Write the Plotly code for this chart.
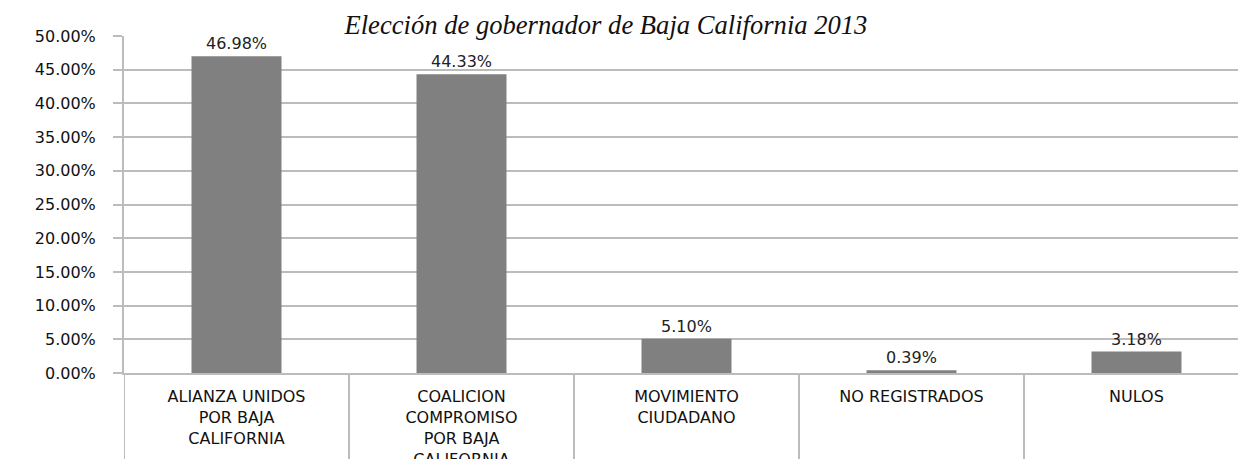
import plotly.graph_objects as go

categories = ["ALIANZA UNIDOS<br>POR BAJA<br>CALIFORNIA",
              "COALICION<br>COMPROMISO<br>POR BAJA<br>CALIFORNIA",
              "MOVIMIENTO<br>CIUDADANO",
              "NO REGISTRADOS",
              "NULOS"]
values = [0.4698, 0.4433, 0.0510, 0.0039, 0.0318]
labels = ["46.98%", "44.33%", "5.10%", "0.39%", "3.18%"]
title = "Elección de gobernador de Baja California 2013"

x_idx = list(range(len(categories)))

fig = go.Figure()
fig.add_trace(go.Bar(
    x=x_idx, y=values, text=labels, textposition="outside",
    textfont=dict(family="DejaVu Sans", size=16, color="#222222"),
    marker=dict(color="#808080", line=dict(width=0)),
    width=0.4, cliponaxis=False,
))

grid_col = "#bcbcbc"
shapes = []
for b in range(len(categories)):
    shapes.append(dict(type="line", xref="x", yref="paper",
                       x0=b - 0.5, x1=b - 0.5, y0=0, y1=-0.3,
                       line=dict(color=grid_col, width=2)))

fig.update_layout(
    width=1238, height=451,
    margin=dict(l=116, r=0, t=28, b=86),
    paper_bgcolor="white", plot_bgcolor="white",
    showlegend=False,
    title=dict(text=title, x=0.483, xanchor="center", y=0.962, yanchor="middle",
               font=dict(family="Liberation Serif", size=26.6, color="#111111", style="italic")),
    shapes=shapes,
    xaxis=dict(range=[-0.5, 4.4867], tickmode="array", tickvals=x_idx, ticktext=categories,
               showgrid=False, showline=True, linecolor=grid_col, linewidth=2,
               ticks="", ticklabelstandoff=8, automargin=False,
               tickfont=dict(family="DejaVu Sans", size=16, color="#111111")),
    yaxis=dict(range=[0, 0.5], dtick=0.05, tickformat=".2%",
               showgrid=True, gridcolor=grid_col, gridwidth=1.5,
               showline=True, linecolor=grid_col, linewidth=2,
               ticks="outside", ticklen=9, tickcolor=grid_col, tickwidth=1.5,
               ticklabelstandoff=14, zeroline=False, automargin=False,
               tickfont=dict(family="DejaVu Sans", size=16, color="#111111")),
    bargap=0.6,
)

fig.write_html("out.html")
